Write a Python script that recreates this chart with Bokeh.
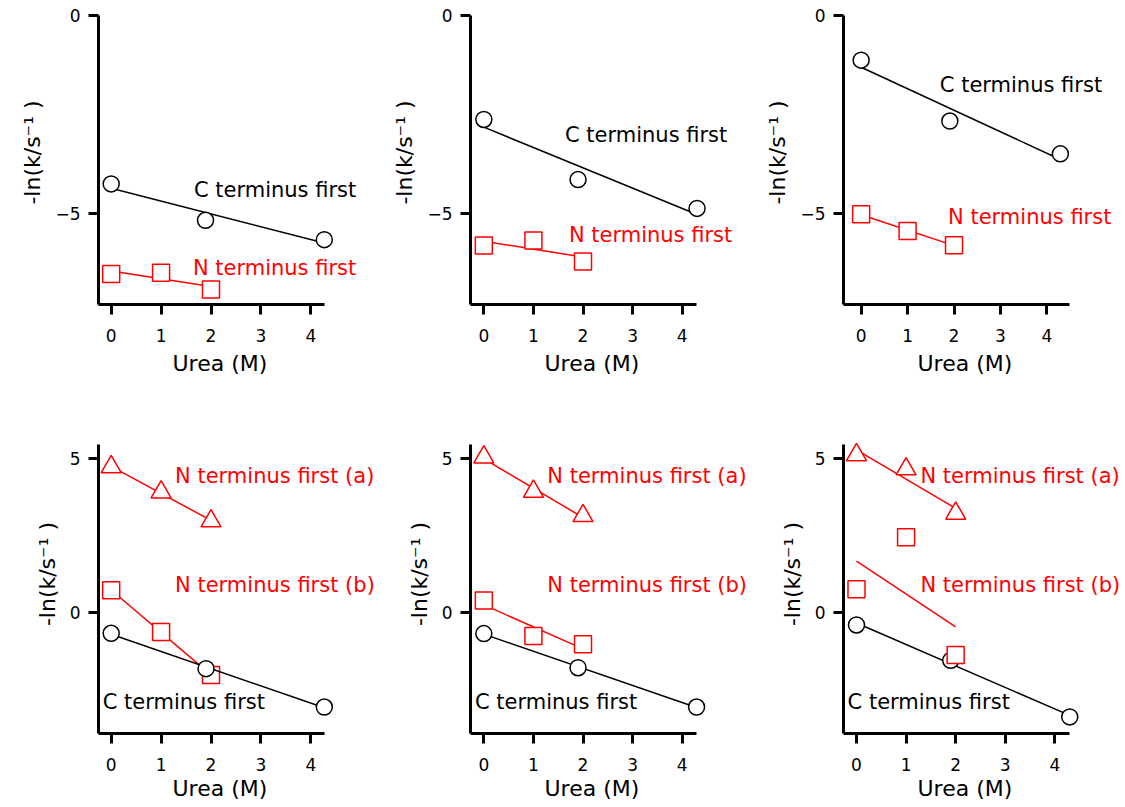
import numpy as np
from bokeh.plotting import figure
from bokeh.layouts import row, column
from bokeh.models import Range1d, FixedTicker, Label, Title
from bokeh.embed import file_html
from bokeh.resources import INLINE

FONT = "DejaVu Sans"
RED = "#ff0000"
BLACK = "#000000"

X_TICKS = [0, 1, 2, 3, 4]
Y_TICKS_TOP = [-5, 0]
Y_TICKS_BOTTOM = [0, 5]
X_LABEL = "Urea (M)"
Y_LABEL = "-ln(k/s\u207b\u00b9 )"
LABEL_C = "C terminus first"
LABEL_N = "N terminus first"
LABEL_NA = "N terminus first (a)"
LABEL_NB = "N terminus first (b)"

N_UREA = [0, 1, 2]

# Panel A (top left)
a_c_urea = [0, 1.89, 4.27]
a_c_val = [-4.26, -5.18, -5.67]
a_n_val = [-6.54, -6.51, -6.93]
# Panel B (top middle)
b_c_urea = [0, 1.90, 4.30]
b_c_val = [-2.63, -4.15, -4.88]
b_n_val = [-5.82, -5.69, -6.22]
# Panel C (top right)
c_c_urea = [0, 1.91, 4.29]
c_c_val = [-1.13, -2.67, -3.50]
c_n_val = [-5.03, -5.45, -5.81]
# Panel D (bottom left)
d_c_urea = [0, 1.90, 4.27]
d_c_val = [-0.67, -1.82, -3.07]
d_na_val = [4.74, 3.92, 2.98]
d_nb_val = [0.73, -0.63, -2.03]
# Panel E (bottom middle)
e_c_urea = [0, 1.90, 4.29]
e_c_val = [-0.68, -1.79, -3.07]
e_na_val = [5.06, 3.94, 3.15]
e_nb_val = [0.40, -0.76, -1.03]
# Panel F (bottom right)
f_c_urea = [0, 1.90, 4.30]
f_c_val = [-0.40, -1.55, -3.39]
f_na_val = [5.13, 4.67, 3.23]
f_nb_val = [0.76, 2.45, -1.38]

AXIS_W = 226   # length of the drawn x axis in px
AXIS_H = 289   # length of the drawn y axis in px


def make_fig(fig_w, xb, yb, yticks, left, top, height, bottom, extra_top=0,
             xlabel_standoff=13):
    # frame spans to the right edge (so labels are not clipped);
    # the axes themselves are limited with bounds
    frame_w = fig_w - left
    ppx = AXIS_W / (xb[1] - xb[0])
    x_end = xb[0] + frame_w / ppx
    ppy = AXIS_H / (yb[1] - yb[0])
    y_end = yb[1] + extra_top / ppy
    p = figure(width=fig_w, height=height,
               x_range=Range1d(xb[0], x_end), y_range=Range1d(yb[0], y_end),
               output_backend="svg", toolbar_location=None,
               min_border_left=left, min_border_right=0,
               min_border_top=top - extra_top, min_border_bottom=bottom)
    p.outline_line_color = None
    p.grid.visible = False
    p.background_fill_color = "white"
    p.border_fill_color = "white"
    p.xaxis.ticker = FixedTicker(ticks=X_TICKS)
    p.yaxis.ticker = FixedTicker(ticks=yticks)
    p.xaxis.bounds = xb
    p.yaxis.bounds = yb
    p.yaxis.axis_label = Y_LABEL
    for ax in (p.xaxis[0], p.yaxis[0]):
        ax.axis_line_width = 3
        ax.axis_line_color = "black"
        ax.major_tick_line_width = 3
        ax.major_tick_line_color = "black"
        ax.major_tick_out = 10
        ax.major_tick_in = 0
        ax.minor_tick_out = 0
        ax.minor_tick_in = 0
        ax.major_label_text_font = FONT
        ax.major_label_text_font_size = "17px"
        ax.major_label_text_color = "black"
        ax.axis_label_text_font = FONT
        ax.axis_label_text_font_size = "22px"
        ax.axis_label_text_font_style = "normal"
        ax.axis_label_text_color = "black"
    p.xaxis.major_label_standoff = 14
    p.yaxis.major_label_standoff = 8
    p.yaxis.axis_label_standoff = 7
    # x-axis label, centred under the drawn axis rather than the wide frame
    p.add_layout(Title(text=X_LABEL, align="left", offset=74,
                       vertical_align="top", standoff=xlabel_standoff,
                       text_font=FONT, text_font_size="22px",
                       text_font_style="normal", text_color="black"), "below")
    return p


def add_series(p, x, y, marker, color, size):
    coef = np.polyfit(x, y, 1)
    xs = [min(x), max(x)]
    ys = list(np.polyval(coef, xs))
    p.line(xs, ys, line_color=color, line_width=1.5)
    p.scatter(x, y, marker=marker, size=size, fill_color="white",
              line_color=color, line_width=1.5)


def add_label(p, x, y, text, color, align):
    p.add_layout(Label(x=x, y=y, text=text, text_color=color, text_align=align,
                       text_baseline="middle", text_font=FONT,
                       text_font_size="21px"))


TOP_H = 400
BOT_H = 407
TOP_Y = (-7.31, 0)
BOT_Y = (-3.93, 5.47)
TOP_BORDER_T = 15
BOT_BORDER_T = 44
TOP_BORDER_B = TOP_H - TOP_BORDER_T - AXIS_H
BOT_BORDER_B = BOT_H - BOT_BORDER_T - AXIS_H
W1, W2, W3 = 376, 374, 375
L1, L2, L3 = 98, 94, 93
BOT_XL_STANDOFF = 5

pa = make_fig(W1, (-0.254, 4.274), TOP_Y, Y_TICKS_TOP, L1, TOP_BORDER_T, TOP_H, TOP_BORDER_B, extra_top=15)
add_series(pa, N_UREA, a_n_val, "square", RED, 17)
add_series(pa, a_c_urea, a_c_val, "circle", BLACK, 16)
add_label(pa, 4.91, -4.42, LABEL_C, BLACK, "right")
add_label(pa, 4.91, -6.38, LABEL_N, RED, "right")

pb = make_fig(W2, (-0.269, 4.289), TOP_Y, Y_TICKS_TOP, L2, TOP_BORDER_T, TOP_H, TOP_BORDER_B, extra_top=15)
add_series(pb, N_UREA, b_n_val, "square", RED, 17)
add_series(pb, b_c_urea, b_c_val, "circle", BLACK, 16)
add_label(pb, 4.91, -3.01, LABEL_C, BLACK, "right")
add_label(pb, 5.01, -5.54, LABEL_N, RED, "right")

pc = make_fig(W3, (-0.38, 4.487), TOP_Y, Y_TICKS_TOP, L3, TOP_BORDER_T, TOP_H, TOP_BORDER_B, extra_top=15)
add_series(pc, N_UREA, c_n_val, "square", RED, 17)
add_series(pc, c_c_urea, c_c_val, "circle", BLACK, 16)
add_label(pc, 5.19, -1.77, LABEL_C, BLACK, "right")
add_label(pc, 5.39, -5.10, LABEL_N, RED, "right")

pd = make_fig(W1, (-0.254, 4.274), BOT_Y, Y_TICKS_BOTTOM, L1, BOT_BORDER_T, BOT_H, BOT_BORDER_B,
              extra_top=30, xlabel_standoff=BOT_XL_STANDOFF)
add_series(pd, N_UREA, d_na_val, "triangle", RED, 20)
add_series(pd, N_UREA, d_nb_val, "square", RED, 17)
add_series(pd, d_c_urea, d_c_val, "circle", BLACK, 16)
add_label(pd, 1.28, 4.46, LABEL_NA, RED, "left")
add_label(pd, 1.28, 0.90, LABEL_NB, RED, "left")
add_label(pd, -0.17, -2.91, LABEL_C, BLACK, "left")

pe = make_fig(W2, (-0.269, 4.289), BOT_Y, Y_TICKS_BOTTOM, L2, BOT_BORDER_T, BOT_H, BOT_BORDER_B,
              extra_top=30, xlabel_standoff=BOT_XL_STANDOFF)
add_series(pe, N_UREA, e_na_val, "triangle", RED, 20)
add_series(pe, N_UREA, e_nb_val, "square", RED, 17)
add_series(pe, e_c_urea, e_c_val, "circle", BLACK, 16)
add_label(pe, 1.28, 4.46, LABEL_NA, RED, "left")
add_label(pe, 1.28, 0.90, LABEL_NB, RED, "left")
add_label(pe, -0.18, -2.91, LABEL_C, BLACK, "left")

pf = make_fig(W3, (-0.262, 4.295), BOT_Y, Y_TICKS_BOTTOM, L3, BOT_BORDER_T, BOT_H, BOT_BORDER_B,
              extra_top=30, xlabel_standoff=BOT_XL_STANDOFF)
add_series(pf, f_c_urea, f_c_val, "circle", BLACK, 16)
add_series(pf, N_UREA, f_na_val, "triangle", RED, 20)
add_series(pf, N_UREA, f_nb_val, "square", RED, 17)
add_label(pf, 1.29, 4.46, LABEL_NA, RED, "left")
add_label(pf, 1.29, 0.90, LABEL_NB, RED, "left")
add_label(pf, -0.18, -2.91, LABEL_C, BLACK, "left")

layout = column(row(pa, pb, pc), row(pd, pe, pf))
open("out.html", "w").write(file_html(layout, INLINE))
